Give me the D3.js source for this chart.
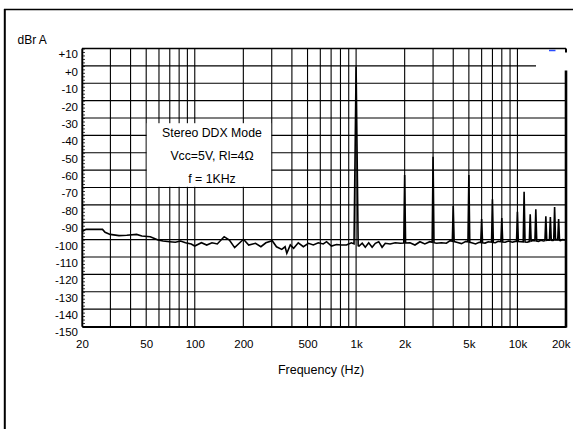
<!DOCTYPE html>
<html><head><meta charset="utf-8">
<script src="https://cdn.jsdelivr.net/npm/d3@7"></script>
<style>
body{margin:0;background:#fff}
text{font-family:"Liberation Sans",Arial,Helvetica,sans-serif;fill:#000}
</style>
</head><body>
<svg id="chart" width="573" height="429"></svg>
<script>
// ---- data ----
const xTickValues = [20, 50, 100, 200, 500, 1000, 2000, 5000, 10000, 20000];
const xTickLabels = ["20", "50", "100", "200", "500", "1k", "2k", "5k", "10k", "20k"];
const yTickValues = [10, 0, -10, -20, -30, -40, -50, -60, -70, -80, -90, -100, -110, -120, -130, -140, -150];
const yTickLabels = ["+10", "+0", "-10", "-20", "-30", "-40", "-50", "-60", "-70", "-80", "-90", "-100", "-110", "-120", "-130", "-140", "-150"];
const gridFreqs = [20, 30, 40, 50, 60, 70, 80, 90, 100, 200, 300, 400, 500, 600, 700, 800, 900,
                   1000, 2000, 3000, 4000, 5000, 6000, 7000, 8000, 9000, 10000];

const noiseFreq = [20, 21.2, 26.8, 27.8, 29.9, 33.9, 37.9, 43.6, 47, 53, 59.2, 63.6, 69.8, 75.8, 81.6, 87.6,
  95.1, 99.9, 110, 118.6, 127.8, 137.9, 152.1, 163.9, 176.7, 200.4, 216, 238, 257, 276, 302, 321, 346, 363,
  372, 391, 410, 438, 471, 506, 543, 583, 626, 656, 704, 756, 811, 871, 935, 1043, 1091, 1140, 1197, 1257,
  1316, 1381, 1449, 1517, 1625, 1747, 1877, 2158, 2317, 2487, 2667, 2863, 3152, 3380, 3628, 3830, 4200,
  4500, 4800, 5200, 5500, 5800, 6300, 6600, 7300, 7600, 8400, 8800, 9300, 9700, 10500, 11500, 12500,
  13500, 14000, 14500, 15500, 16500, 17500, 18500, 19000, 20000];
const noiseDb = [-95.4, -94.1, -94.1, -95.8, -97, -97.7, -97.5, -97, -97.9, -98.3, -100.2, -100.8, -101.2,
  -101.5, -100.8, -101.8, -102.5, -103.7, -101.8, -103.1, -101.8, -102.5, -98.3, -100.2, -104.6, -99.8,
  -103.1, -102.1, -104.1, -101.8, -100.6, -104.1, -105.6, -104.1, -107.9, -103.1, -105, -101.8, -104.1,
  -102.1, -103.1, -101.8, -102.5, -101.2, -103.7, -102.8, -103.1, -103.1, -101.8, -103.7, -102.1, -104.4,
  -101.8, -104.4, -102.1, -101.2, -104.4, -102.1, -102.5, -101.8, -102.1, -101.8, -103.1, -101.2, -102.5,
  -101.2, -102.1, -101.8, -102.1, -100.6, -101.5, -102.3, -101, -101.8, -102.5, -101.5, -102, -101.2,
  -101.8, -101, -101.5, -100.8, -101.5, -101, -101.2, -101.5, -100.5, -101, -100.4, -100.8, -100.2,
  -100.5, -100, -100.6, -100, -100.3];

const harmFreq = [1000, 2000, 3000, 4000, 5000, 6000, 7000, 8000, 10000, 11000, 12000, 13000, 15000, 16000, 17000, 18000];
const harmDb = [-0.5, -62.8, -52.3, -80.6, -62.8, -88.2, -76.8, -87.5, -83.9, -72.4, -85.4, -82.6, -86.6, -87, -81.2, -88.1];

const boxLines = ["Stereo DDX Mode", "Vcc=5V, Rl=4\u03A9", "f = 1KHz"];
const yTitle = "dBr A";
const xTitle = "Frequency (Hz)";

// ---- layout ----
const M = {left: 82, right: 566, top: 48.5, bottom: 326.5};
const svg = d3.select("#chart");
const x = d3.scaleLog().domain([20, 20000]).range([M.left, M.right]);
const y = d3.scaleLinear().domain([-150, 10]).range([M.bottom, M.top]);

// outer frame (top + left)
svg.append("line").attr("x1", 4).attr("x2", 573).attr("y1", 9.5).attr("y2", 9.5)
  .attr("stroke", "#000").attr("stroke-width", 1.5);
svg.append("line").attr("x1", 4.8).attr("x2", 4.8).attr("y1", 9).attr("y2", 429)
  .attr("stroke", "#000").attr("stroke-width", 2);

// grid
const grid = svg.append("g");
grid.selectAll("line.v").data(gridFreqs).join("line").attr("class", "v")
  .attr("x1", d => x(d)).attr("x2", d => x(d)).attr("y1", M.top).attr("y2", M.bottom)
  .attr("stroke", "#000").attr("stroke-width", 1.1);
grid.selectAll("line.h").data(yTickValues).join("line").attr("class", "h")
  .attr("x1", M.left).attr("x2", M.right).attr("y1", d => y(d)).attr("y2", d => y(d))
  .attr("stroke", "#000").attr("stroke-width", 1.1);

// annotation box
const bx0 = x(50) + 0.6, bx1 = x(300) - 0.6;
svg.append("rect").attr("x", bx0).attr("y", y(-33)).attr("width", bx1 - bx0)
  .attr("height", y(-69.6) - y(-33)).attr("fill", "#fff");
svg.append("g").selectAll("text").data(boxLines).join("text")
  .attr("x", 212).attr("y", (d, i) => 137.3 + i * 22.7)
  .attr("text-anchor", "middle").attr("font-size", "12.3px").text(d => d);

// white patch at top right
svg.append("rect").attr("x", 536).attr("y", 49.3).attr("width", 31).attr("height", 21).attr("fill", "#fff");
svg.append("line").attr("x1", 549).attr("x2", 555.5).attr("y1", 50.5).attr("y2", 50.5)
  .attr("stroke", "#2a4cff").attr("stroke-width", 1.5);

// trace
const baseAt = d3.scaleLog().domain(noiseFreq).range(noiseDb);
const pts = [];
const halfW = harmFreq.map((f, i) => i === 0 ? 1.03 : 1.013);
noiseFreq.forEach((f, i) => {
  const inPeak = harmFreq.some((h, k) => f > h / halfW[k] && f < h * halfW[k]);
  if (!inPeak) pts.push([f, noiseDb[i]]);
});
harmFreq.forEach((h, k) => {
  pts.push([h / halfW[k], baseAt(h / halfW[k])]);
  pts.push([h, harmDb[k]]);
  pts.push([h * halfW[k], baseAt(h * halfW[k])]);
});
pts.sort((a, b) => a[0] - b[0]);
svg.append("path").datum(pts)
  .attr("d", d3.line().x(d => x(d[0])).y(d => y(d[1])))
  .attr("fill", "none").attr("stroke", "#000").attr("stroke-width", 1.6).attr("stroke-linejoin", "miter");

// axes
const yAxis = svg.append("g").attr("transform", `translate(${M.left},0)`)
  .call(d3.axisLeft(y).tickValues(yTickValues).tickFormat((d, i) => yTickLabels[i]).tickSize(0).tickPadding(4));
yAxis.select(".domain").attr("stroke", "#000").attr("stroke-width", 1.6);
yAxis.selectAll("text").attr("font-size", "11.5px").attr("dy", "0.82em")
  .style("font-family", "'Liberation Sans', Arial, sans-serif");

const yMinor = svg.append("g").attr("transform", `translate(${M.left},0)`)
  .call(d3.axisRight(y).tickValues(d3.range(-150, 11, 2)).tickSize(3).tickFormat(""));
yMinor.select(".domain").remove();
yMinor.selectAll("line").attr("stroke", "#000").attr("stroke-width", 0.8);

const xAxis = svg.append("g").attr("transform", `translate(0,${M.bottom})`)
  .call(d3.axisBottom(x).tickValues(xTickValues).tickFormat((d, i) => xTickLabels[i]).tickSize(0));
xAxis.select(".domain").attr("stroke", "#000").attr("stroke-width", 2);
xAxis.selectAll("text").attr("font-size", "11.5px").attr("y", 21.5).attr("dy", 0)
  .style("font-family", "'Liberation Sans', Arial, sans-serif");
xAxis.selectAll(".tick").filter(d => d === 20000).select("text")
  .attr("text-anchor", "end").attr("x", 4);

// top and right borders
svg.append("line").attr("x1", M.left).attr("x2", M.right).attr("y1", M.top).attr("y2", M.top)
  .attr("stroke", "#000").attr("stroke-width", 1.4);
svg.append("line").attr("x1", M.right).attr("x2", M.right).attr("y1", 70.5).attr("y2", M.bottom + 1)
  .attr("stroke", "#000").attr("stroke-width", 2.6);
svg.append("line").attr("x1", M.right).attr("x2", M.right).attr("y1", M.top).attr("y2", 52.5)
  .attr("stroke", "#000").attr("stroke-width", 2);

// titles
svg.append("text").attr("x", 17.5).attr("y", 44.3).attr("font-size", "12px").text(yTitle);
svg.append("text").attr("x", 321).attr("y", 374.3).attr("text-anchor", "middle")
  .attr("font-size", "12.5px").text(xTitle);
</script>
</body></html>
